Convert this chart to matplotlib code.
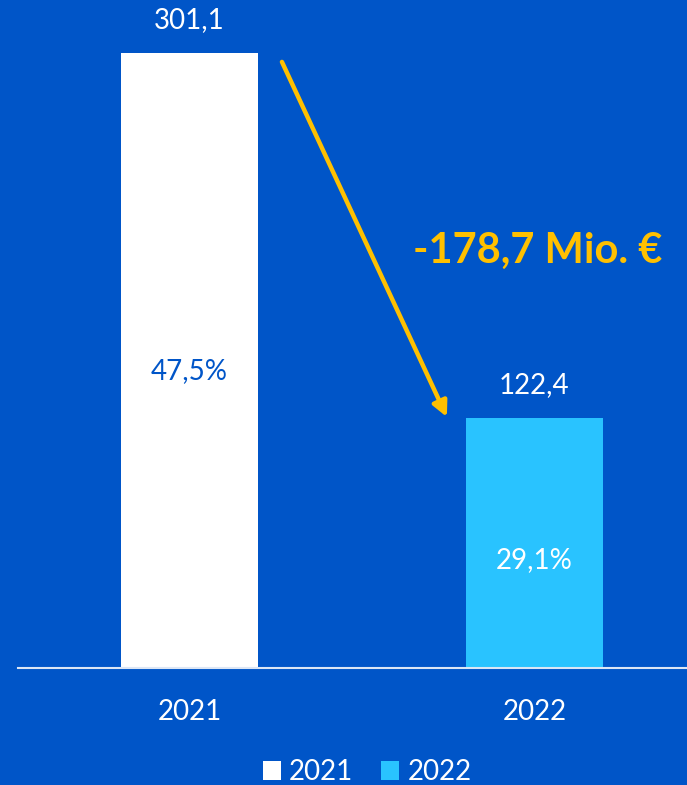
import matplotlib.pyplot as plt
from matplotlib.patches import Patch

plt.rcParams['font.family'] = ['Lato', 'DejaVu Sans']

years = ['2021', '2022']
values = [301.1, 122.4]
value_labels = ['301,1', '122,4']
share_labels = ['47,5%', '29,1%']
diff_label = '-178,7 Mio. €'

BG = '#0055C8'
BAR_COLORS = ['#FFFFFF', '#29C3FF']
SHARE_COLORS = [BG, '#FFFFFF']
SHARE_POS = [0.483, 0.43]  # label height as share of bar height
GOLD = '#FFC000'

fig = plt.figure(figsize=(6.87, 7.85), dpi=100, facecolor=BG)
ax = fig.add_axes([18 / 687, 117 / 785, 669 / 687, 668 / 785])
ax.set_facecolor(BG)

x = [0, 1]
ax.bar(x, values, width=0.397, color=BAR_COLORS, zorder=2)
ax.set_xlim(-0.497, 1.442)
ax.set_ylim(0, 327)

for xi, v, vl, sl, sc, sp in zip(x, values, value_labels, share_labels,
                                  SHARE_COLORS, SHARE_POS):
    ax.text(xi, v + 16, vl, ha='center', va='center', color='white', fontsize=20)
    ax.text(xi, v * sp, sl, ha='center', va='center', color=sc, fontsize=20)

for s in ['top', 'right', 'left']:
    ax.spines[s].set_visible(False)
ax.spines['bottom'].set_color('#DCE6F5')
ax.spines['bottom'].set_linewidth(1.5)
ax.set_xticks(x)
ax.set_xticklabels(years, color='white', fontsize=20)
ax.tick_params(axis='x', length=0, pad=22)
ax.set_yticks([])

ax.annotate('', xy=(0.746, values[1] + 0.5), xytext=(0.268, 296.7),
            arrowprops=dict(arrowstyle='-|>,head_length=0.9,head_width=0.45',
                            color=GOLD, lw=3.2, shrinkA=0, shrinkB=0), zorder=3)
ax.text(1.008, 204, diff_label, ha='center', va='center', color=GOLD,
        fontsize=30, fontweight='bold')

handles = [Patch(facecolor=BAR_COLORS[0], label=years[0]),
           Patch(facecolor=BAR_COLORS[1], label=years[1])]
fig.legend(handles=handles, loc='center', bbox_to_anchor=(367 / 687, 1 - 772 / 785),
           ncol=2, frameon=False, fontsize=20, labelcolor='white',
           handlelength=0.65, handleheight=0.65, handletextpad=0.3, columnspacing=1.0)

fig.savefig('out.png', dpi=100, facecolor=BG)
